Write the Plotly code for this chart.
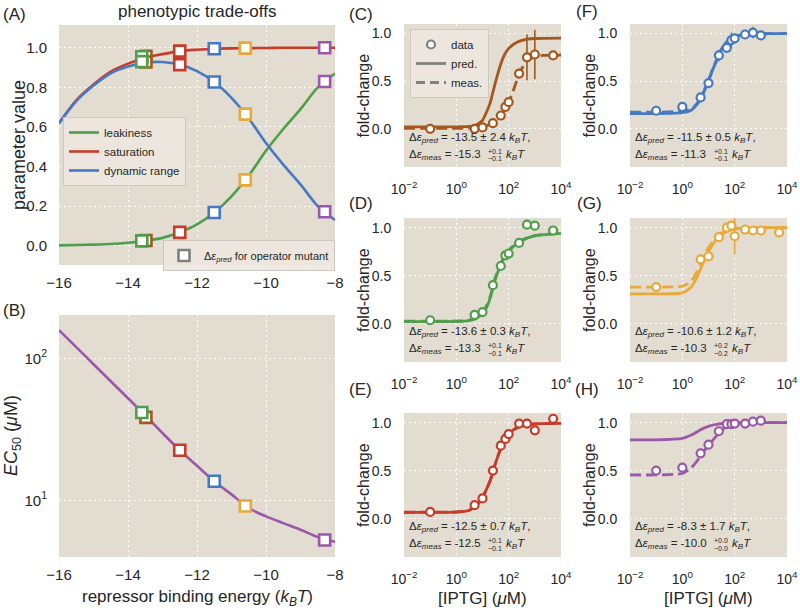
import plotly.graph_objects as go

W, H = 800, 613
FONT = 'Liberation Sans, Arial, Helvetica, sans-serif'
BG = '#E3DCD0'
TXT = '#262626'
GREY = '#808080'

def px(x):
    return x / W

def py(y):
    return 1 - y / H

# ------------------------------------------------------------------ data
# Panel A / B : theory vs repressor binding energy (k_B T)
energy = [-16, -15.5, -15, -14.5, -14, -13.5, -13, -12.5, -12, -11.5,
          -11, -10.5, -10, -9.5, -9, -8.5, -8]
leakiness = [0.002, 0.004, 0.006, 0.009, 0.015, 0.025, 0.04, 0.068, 0.108, 0.168,
             0.25, 0.355, 0.48, 0.59, 0.69, 0.80, 0.87]
saturation = [0.62, 0.735, 0.815, 0.88, 0.92, 0.95, 0.968, 0.983, 0.99, 0.995,
              0.997, 0.998, 0.999, 1.0, 1.0, 1.0, 1.0]
dynamic_range = [0.618, 0.731, 0.809, 0.871, 0.905, 0.925, 0.928, 0.915, 0.882, 0.827,
                 0.747, 0.643, 0.519, 0.41, 0.31, 0.20, 0.13]
ec50 = [158, 120, 91, 69, 52.4, 39.7, 29.8, 22.5, 17.5, 13.6,
        11.0, 8.8, 7.7, 6.9, 6.2, 5.5, 5.1]

# operator mutants (panels C-H)
mutants = ['C', 'D', 'E', 'F', 'G', 'H']
mutant_energy = [-13.48, -13.6, -12.5, -11.5, -10.6, -8.3]
mutant_leak = [0.027, 0.025, 0.068, 0.168, 0.333, 0.83]
mutant_sat = [0.957, 0.955, 0.983, 0.995, 0.998, 1.0]
mutant_dyn = [0.928, 0.93, 0.915, 0.827, 0.665, 0.172]
mutant_ec50 = [38.4, 41.6, 22.5, 13.6, 9.1, 5.25]

colors = {'C': '#A3581F', 'D': '#4F9E4B', 'E': '#C63B2A', 'F': '#4679C2',
          'G': '#E8A93A', 'H': '#9A58A9'}
GREEN, RED, BLUE, PURPLE = colors['D'], colors['E'], colors['F'], colors['H']

# IPTG concentrations (uM) of measured points
iptg_a = [0.1, 5, 10, 25, 50, 75, 100, 250, 500, 1000, 5000]
iptg_b = [0.1, 1, 5, 10, 25, 50, 75, 100, 250, 500, 1000]

fc_C = [0.0, 0.0, 0.015, 0.06, 0.14, 0.23, 0.28, 0.58, 0.75, 0.78, 0.77]
err_C = [0.01, 0.01, 0.01, 0.015, 0.02, 0.02, 0.03, 0.05, 0.24, 0.26, 0.02]
fc_D = [0.035, 0.09, 0.12, 0.40, 0.60, 0.71, 0.73, 0.84, 1.03, 1.02, 0.97]
err_D = [0.01, 0.02, 0.02, 0.04, 0.03, 0.03, 0.03, 0.03, 0.03, 0.03, 0.03]
fc_E = [0.07, 0.14, 0.21, 0.50, 0.76, 0.83, 0.88, 0.99, 0.99, 0.92, 1.04]
err_E = [0.01, 0.02, 0.02, 0.02, 0.02, 0.02, 0.02, 0.02, 0.02, 0.02, 0.02]
fc_F = [0.19, 0.23, 0.33, 0.48, 0.77, 0.85, 0.93, 0.95, 0.99, 1.01, 0.98]
err_F = [0.01, 0.01, 0.03, 0.03, 0.06, 0.04, 0.08, 0.03, 0.03, 0.06, 0.03]
fc_G = [0.38, 0.67, 0.70, 0.90, 1.00, 1.02, 0.91, 0.98, 0.97, 0.97, 0.95]
err_G = [0.02, 0.03, 0.03, 0.03, 0.03, 0.04, 0.19, 0.02, 0.02, 0.02, 0.02]
fc_H = [0.50, 0.53, 0.68, 0.77, 0.91, 0.985, 0.985, 0.99, 0.99, 1.01, 1.02]
err_H = [0.01, 0.01, 0.02, 0.02, 0.02, 0.02, 0.02, 0.02, 0.02, 0.02, 0.02]

conc_grid = [0.01, 0.1, 1, 2, 3, 5, 7, 10, 15, 20, 30, 50, 70, 100, 150, 200,
             300, 500, 1000, 2000, 10000]
pred_C = [0.02, 0.02, 0.02, 0.022, 0.025, 0.035, 0.055, 0.09, 0.19, 0.28, 0.47,
          0.68, 0.78, 0.845, 0.885, 0.905, 0.925, 0.94, 0.948, 0.95, 0.952]
meas_C = [0.005, 0.005, 0.005, 0.006, 0.007, 0.01, 0.015, 0.022, 0.035, 0.048, 0.075,
          0.135, 0.20, 0.28, 0.40, 0.50, 0.62, 0.71, 0.755, 0.77, 0.775]
pred_D = [0.02, 0.02, 0.022, 0.025, 0.03, 0.045, 0.07, 0.10, 0.18, 0.27, 0.45,
          0.615, 0.69, 0.75, 0.80, 0.83, 0.86, 0.89, 0.915, 0.925, 0.94]
meas_D = [0.025, 0.025, 0.027, 0.03, 0.036, 0.052, 0.08, 0.115, 0.20, 0.29, 0.47,
          0.63, 0.70, 0.76, 0.81, 0.835, 0.865, 0.893, 0.917, 0.927, 0.942]
pred_E = [0.065, 0.065, 0.068, 0.075, 0.085, 0.12, 0.16, 0.22, 0.32, 0.40, 0.56,
          0.73, 0.82, 0.88, 0.925, 0.945, 0.965, 0.978, 0.987, 0.99, 0.992]
meas_E = [0.066, 0.066, 0.069, 0.076, 0.086, 0.121, 0.162, 0.222, 0.322, 0.402, 0.562,
          0.732, 0.82, 0.88, 0.925, 0.945, 0.965, 0.978, 0.987, 0.99, 0.992]
pred_F = [0.16, 0.16, 0.17, 0.19, 0.23, 0.31, 0.40, 0.50, 0.63, 0.71, 0.82,
          0.91, 0.945, 0.965, 0.98, 0.986, 0.991, 0.995, 0.997, 0.998, 1.0]
meas_F = [0.175, 0.175, 0.185, 0.205, 0.24, 0.32, 0.41, 0.51, 0.64, 0.72, 0.83,
          0.915, 0.95, 0.968, 0.98, 0.986, 0.991, 0.995, 0.997, 0.998, 1.0]
pred_G = [0.31, 0.31, 0.32, 0.37, 0.44, 0.57, 0.66, 0.75, 0.83, 0.875, 0.925,
          0.96, 0.975, 0.985, 0.99, 0.993, 0.996, 0.998, 0.999, 1.0, 1.0]
meas_G = [0.38, 0.38, 0.39, 0.43, 0.50, 0.62, 0.71, 0.79, 0.86, 0.90, 0.94,
          0.97, 0.98, 0.988, 0.993, 0.995, 0.997, 0.998, 0.999, 1.0, 1.0]
pred_H = [0.82, 0.82, 0.835, 0.865, 0.89, 0.925, 0.945, 0.96, 0.975, 0.982, 0.99,
          0.995, 0.997, 0.998, 0.999, 1.0, 1.0, 1.0, 1.0, 1.0, 1.0]
meas_H = [0.455, 0.455, 0.47, 0.52, 0.57, 0.65, 0.71, 0.76, 0.82, 0.86, 0.915,
          0.965, 0.978, 0.987, 0.993, 0.995, 0.997, 0.998, 0.999, 1.0, 1.0]

energy_pred_txt = ['-13.5 ± 2.4', '-13.6 ± 0.3', '-12.5 ± 0.7', '-11.5 ± 0.5', '-10.6 ± 1.2', '-8.3 ± 1.7']
energy_meas_txt = ['-15.3', '-13.3', '-12.5', '-11.3', '-10.3', '-10.0']
energy_meas_up = ['+0.1', '+0.1', '+0.1', '+0.1', '+0.2', '+0.0']
energy_meas_lo = ['−0.1', '−0.1', '−0.1', '−0.1', '−0.2', '−0.0']

panel_data = {
    'C': (iptg_a, fc_C, err_C, pred_C, meas_C),
    'D': (iptg_a, fc_D, err_D, pred_D, meas_D),
    'E': (iptg_a, fc_E, err_E, pred_E, meas_E),
    'F': (iptg_b, fc_F, err_F, pred_F, meas_F),
    'G': (iptg_a, fc_G, err_G, pred_G, meas_G),
    'H': (iptg_b, fc_H, err_H, pred_H, meas_H),
}

# ------------------------------------------------------------------ layout (pixels)
boxes = {
    'A': ((59, 335), (25, 265)),
    'B': ((59, 335), (315, 557)),
    'C': ((404, 561), (24, 167)),
    'D': ((404, 561), (218, 362)),
    'E': ((404, 561), (413, 557)),
    'F': ((630, 787), (24, 167)),
    'G': ((630, 787), (218, 362)),
    'H': ((630, 787), (413, 557)),
}
axis_idx = {k: i + 1 for i, k in enumerate('ABCDEFGH')}

def ax_names(p):
    i = axis_idx[p]
    s = '' if i == 1 else str(i)
    return 'x' + s, 'y' + s, 'xaxis' + s, 'yaxis' + s

fig = go.Figure()

# ---- panel A curves
xa, ya, _, _ = ax_names('A')
for name, vals, col in [('leakiness', leakiness, GREEN), ('saturation', saturation, RED),
                        ('dynamic range', dynamic_range, BLUE)]:
    fig.add_trace(go.Scatter(x=energy, y=vals, mode='lines', name=name,
                             line=dict(color=col, width=2.6, shape='spline', smoothing=0.8),
                             xaxis=xa, yaxis=ya, legend='legend', showlegend=True))
for i, m in enumerate(mutants):
    e = mutant_energy[i]
    fig.add_trace(go.Scatter(x=[e, e, e], y=[mutant_leak[i], mutant_sat[i], mutant_dyn[i]],
                             mode='markers', showlegend=False, xaxis=xa, yaxis=ya,
                             marker=dict(symbol='square', size=11, color='white',
                                         line=dict(color=colors[m], width=2.6))))
fig.add_trace(go.Scatter(x=[None], y=[None], mode='markers', xaxis=xa, yaxis=ya,
                         name='Δ<i>ε</i><sub><i>pred</i></sub> for operator mutant',
                         legend='legend2', showlegend=True,
                         marker=dict(symbol='square', size=11, color='white',
                                     line=dict(color=GREY, width=2.6))))

# ---- panel B
xb, yb, _, _ = ax_names('B')
fig.add_trace(go.Scatter(x=energy, y=ec50, mode='lines', showlegend=False,
                         line=dict(color=PURPLE, width=2.6, shape='spline', smoothing=0.8),
                         xaxis=xb, yaxis=yb))
for i, m in enumerate(mutants):
    fig.add_trace(go.Scatter(x=[mutant_energy[i]], y=[mutant_ec50[i]], mode='markers',
                             showlegend=False, xaxis=xb, yaxis=yb,
                             marker=dict(symbol='square', size=11, color='white',
                                         line=dict(color=colors[m], width=2.6))))

# ---- panels C-H
for m in mutants:
    xn, yn, _, _ = ax_names(m)
    iptg, fc, err, pred, meas = panel_data[m]
    col = colors[m]
    fig.add_trace(go.Scatter(x=conc_grid, y=pred, mode='lines', showlegend=False,
                             line=dict(color=col, width=2.8, shape='spline', smoothing=0.6),
                             xaxis=xn, yaxis=yn))
    fig.add_trace(go.Scatter(x=conc_grid, y=meas, mode='lines', showlegend=False,
                             line=dict(color=col, width=2.8, dash='11px,5px', shape='spline',
                                       smoothing=0.6),
                             xaxis=xn, yaxis=yn))
    fig.add_trace(go.Scatter(x=iptg, y=fc, mode='markers', showlegend=False,
                             error_y=dict(type='data', array=err, visible=True, color=col,
                                          thickness=1.6, width=0),
                             marker=dict(symbol='circle', size=8, color='white',
                                         line=dict(color=col, width=2.2)),
                             xaxis=xn, yaxis=yn))

xc, yc, _, _ = ax_names('C')
fig.add_trace(go.Scatter(x=[None], y=[None], mode='markers', name='data', legend='legend3',
                         showlegend=True, xaxis=xc, yaxis=yc,
                         marker=dict(symbol='circle', size=8, color='white',
                                     line=dict(color=GREY, width=2.2))))
fig.add_trace(go.Scatter(x=[None], y=[None], mode='lines', name='pred.', legend='legend3',
                         showlegend=True, xaxis=xc, yaxis=yc,
                         line=dict(color=GREY, width=2.8)))
fig.add_trace(go.Scatter(x=[None], y=[None], mode='lines', name='meas.', legend='legend3',
                         showlegend=True, xaxis=xc, yaxis=yc,
                         line=dict(color=GREY, width=2.8, dash='9px,5px')))

# ------------------------------------------------------------------ axes
layout = dict(template='none', width=W, height=H, margin=dict(l=0, r=0, t=0, b=0, pad=0),
              autosize=False, paper_bgcolor='white', plot_bgcolor=BG,
              font=dict(family=FONT, color=TXT, size=13))

grid = dict(showgrid=True, gridcolor='white', gridwidth=1.3, griddash='2px,3px',
            zeroline=False, showline=False, ticks='outside', tickcolor='rgba(0,0,0,0)',
            automargin=False)

for p, ((x0, x1), (y0, y1)) in boxes.items():
    xn, yn, xk, yk = ax_names(p)
    xd = dict(domain=[px(x0), px(x1)], anchor=yn, **grid)
    yd = dict(domain=[py(y1), py(y0)], anchor=xn, **grid)
    if p in ('A', 'B'):
        xd.update(range=[-16, -8], tick0=-16, dtick=2, ticklen=4, tickfont=dict(size=15))
        if p == 'A':
            yd.update(range=[-0.097, 1.115], tick0=0, dtick=0.2, tickformat='.1f',
                      ticklen=8, tickfont=dict(size=15))
        else:
            yd.update(type='log', range=[0.60, 2.306], tickvals=[10, 100],
                      ticktext=['10<sup>1</sup>', '10<sup>2</sup>'],
                      ticklen=8, tickfont=dict(size=15))
    else:
        xd.update(type='log', range=[-2, 4], tickvals=[0.01, 1, 100, 10000],
                  ticktext=['10<sup>−2</sup>', '10<sup>0</sup>', '10<sup>2</sup>',
                            '10<sup>4</sup>'],
                  ticklen=9, tickfont=dict(size=14))
        yd.update(range=[-0.4, 1.1], tickvals=[0, 0.5, 1.0], tickformat='.1f',
                  ticklen=9, tickfont=dict(size=14))
    layout[xk] = xd
    layout[yk] = yd

legend_common = dict(bgcolor='rgba(236,231,223,0.9)', bordercolor='rgba(205,200,190,1)',
                     borderwidth=1, xanchor='left', yanchor='top', itemwidth=30,
                     tracegroupgap=0)
layout['legend'] = dict(x=px(63), y=py(117), font=dict(size=11.5, color=TXT), **legend_common)
layout['legend2'] = dict(x=px(163), y=py(240), font=dict(size=11, color=TXT), **legend_common)
layout['legend3'] = dict(x=px(410), y=py(29), font=dict(size=11.5, color=TXT), **legend_common)

fig.update_layout(**layout)

# ------------------------------------------------------------------ annotations
ann = []

def text(x, y, s, size, xanchor='center', yanchor='middle', angle=0, color=TXT):
    ann.append(dict(x=px(x), y=py(y), xref='paper', yref='paper', text=s, showarrow=False,
                    xanchor=xanchor, yanchor=yanchor, textangle=angle, borderpad=0,
                    font=dict(size=size, color=color, family=FONT)))

# panel labels
for lab, (x, y) in {'A': (2, 14), 'B': (2, 310), 'C': (348, 14), 'D': (348, 203),
                    'E': (348, 389), 'F': (575, 12), 'G': (576, 203), 'H': (574, 389)}.items():
    text(x, y, '(' + lab + ')', 17, xanchor='left')

text(197, 12, 'phenotypic trade-offs', 17)
text(19, 145, 'parameter value', 18, angle=-90)
text(13, 436, '<i>EC</i><sub>50</sub> (<i>μ</i>M)', 18, angle=-90)
text(197, 598, 'repressor binding energy (<i>k<sub>B</sub>T</i>)', 17)
for p in mutants:
    (x0, x1), (y0, y1) = boxes[p]
    text(x0 - 41, (y0 + y1) / 2, 'fold-change', 16, angle=-90)
text(482, 598, '[IPTG] (<i>μ</i>M)', 17)
text(708, 598, '[IPTG] (<i>μ</i>M)', 17)

# energy annotations inside panels
for i, p in enumerate(mutants):
    (x0, x1), (y0, y1) = boxes[p]
    l1 = y0 + 114
    l2 = y0 + 131
    text(x0 + 4, l1, 'Δ<i>ε</i><sub><i>pred</i></sub> = ' + energy_pred_txt[i] +
         ' <i>k<sub>B</sub>T</i>,', 11.5, xanchor='left')
    text(x0 + 4, l2, 'Δ<i>ε</i><sub><i>meas</i></sub> = ' + energy_meas_txt[i], 11.5,
         xanchor='left')
    text(x0 + 83, l2 - 4, energy_meas_up[i], 7, xanchor='left')
    text(x0 + 83, l2 + 4, energy_meas_lo[i], 7, xanchor='left')
    text(x0 + 101, l2, '<i>k<sub>B</sub>T</i>', 11.5, xanchor='left')

fig.update_layout(annotations=ann)
fig.write_html('out.html', config={'displayModeBar': False},
               post_script="document.body.style.margin='0px';")
